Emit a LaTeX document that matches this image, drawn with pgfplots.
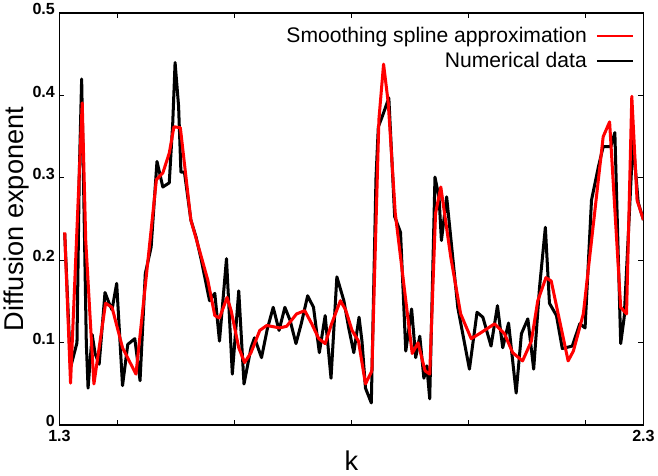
\documentclass[border=0pt]{standalone}
\usepackage{pgfplots}
\pgfplotsset{compat=1.18}
\usepackage{fontspec}
\setmainfont{Liberation Sans}

\begin{document}
\begin{tikzpicture}
\begin{axis}[
    scale only axis,
    width=581pt, height=410pt,
    xmin=1.3, xmax=2.3,
    ymin=0, ymax=0.5,
    xtick={1.3,1.4,1.6,1.8,2.0,2.2,2.3},
    xticklabels={1.3,,,,,,2.3},
    ytick={0,0.1,0.2,0.3,0.4,0.5},
    yticklabels={0,0.1,0.2,0.3,0.4,0.5},
    tick align=inside,
    major tick length=5pt,
    axis line style={line width=1.6pt},
    every tick/.style={black, line width=1pt},
    tick label style={font=\fontsize{16}{16}\selectfont\bfseries},
    yticklabel style={yshift=4pt, xshift=-1pt},
    xticklabel style={yshift=-2pt},
    /pgf/number format/assume math mode=true,
    xlabel={k},
    ylabel={Diffusion exponent},
    label style={font=\fontsize{27}{27}\selectfont},
    xlabel style={inner sep=5pt},
    ylabel style={yshift=-3pt},
    legend style={draw=none, fill=none, at={(0.99,0.975)}, anchor=north east,
        font=\fontsize{21}{23}\selectfont, row sep=4pt},
    legend cell align=right,
    legend plot pos=right,
    legend image code/.code={\path[draw=none] (0pt,0pt) -- (8pt,0pt);
        \draw[#1, line width=2.6pt] (8pt,0pt) -- (44pt,0pt);},
    reverse legend,
]
% numerical data
\addplot[black, line width=3pt, line join=round] coordinates {
(1.309,0.233)(1.319,0.070)(1.330,0.100)(1.334,0.306)(1.338,0.420)
(1.342,0.265)(1.346,0.100)(1.349,0.045)(1.356,0.110)(1.361,0.087)
(1.368,0.074)(1.378,0.161)(1.385,0.148)(1.390,0.140)(1.398,0.172)
(1.408,0.048)(1.417,0.098)(1.429,0.105)(1.438,0.054)(1.447,0.184)
(1.457,0.216)(1.467,0.320)(1.477,0.289)(1.488,0.294)(1.494,0.367)
(1.498,0.440)(1.504,0.387)(1.508,0.307)(1.514,0.307)(1.525,0.249)
(1.534,0.228)(1.543,0.200)(1.557,0.151)(1.566,0.160)(1.574,0.102)
(1.586,0.202)(1.596,0.062)(1.607,0.163)(1.616,0.050)(1.628,0.094)
(1.634,0.106)(1.646,0.082)(1.656,0.117)(1.666,0.143)(1.676,0.115)
(1.686,0.143)(1.695,0.127)(1.705,0.099)(1.714,0.123)(1.725,0.157)
(1.735,0.143)(1.745,0.088)(1.755,0.133)(1.765,0.057)(1.775,0.180)
(1.787,0.151)(1.795,0.119)(1.804,0.088)(1.813,0.131)(1.818,0.102)
(1.824,0.045)(1.834,0.027)(1.842,0.300)(1.846,0.362)(1.853,0.375)
(1.864,0.397)(1.874,0.253)(1.884,0.234)(1.893,0.090)(1.903,0.141)
(1.910,0.082)(1.917,0.108)(1.924,0.057)(1.929,0.072)(1.934,0.032)
(1.943,0.301)(1.950,0.276)(1.954,0.224)(1.963,0.277)(1.982,0.143)
(2.002,0.068)(2.015,0.137)(2.025,0.131)(2.039,0.096)(2.050,0.145)
(2.059,0.094)(2.069,0.124)(2.082,0.039)(2.091,0.111)(2.102,0.129)
(2.112,0.068)(2.122,0.167)(2.132,0.240)(2.139,0.148)(2.151,0.133)
(2.161,0.093)(2.178,0.096)(2.191,0.123)(2.200,0.118)(2.211,0.273)
(2.223,0.314)(2.231,0.338)(2.244,0.338)(2.251,0.355)(2.261,0.099)
(2.267,0.131)(2.273,0.216)(2.282,0.346)(2.291,0.270)(2.300,0.249)
};
\addlegendentry{Numerical data}
% smoothing spline
\addplot[red, line width=3pt, line join=round] coordinates {
(1.309,0.234)(1.319,0.051)(1.339,0.391)(1.345,0.224)(1.359,0.050)
(1.379,0.148)(1.390,0.143)(1.408,0.094)(1.431,0.062)(1.448,0.176)
(1.466,0.298)(1.477,0.306)(1.488,0.330)(1.496,0.362)(1.507,0.361)
(1.525,0.249)(1.543,0.204)(1.554,0.176)(1.566,0.133)(1.574,0.130)
(1.587,0.155)(1.594,0.139)(1.607,0.094)(1.617,0.076)(1.628,0.088)
(1.643,0.115)(1.655,0.121)(1.677,0.118)(1.689,0.120)(1.706,0.135)
(1.720,0.139)(1.732,0.123)(1.744,0.105)(1.755,0.099)(1.766,0.123)
(1.781,0.151)(1.790,0.140)(1.801,0.115)(1.812,0.102)(1.824,0.050)
(1.835,0.066)(1.847,0.371)(1.855,0.438)(1.863,0.391)(1.875,0.257)
(1.904,0.087)(1.914,0.100)(1.926,0.066)(1.934,0.062)(1.944,0.257)
(1.953,0.289)(1.970,0.204)(1.987,0.135)(2.005,0.105)(2.019,0.111)
(2.045,0.123)(2.062,0.111)(2.076,0.088)(2.093,0.078)(2.108,0.102)
(2.119,0.151)(2.133,0.179)(2.142,0.175)(2.171,0.078)(2.180,0.090)
(2.197,0.135)(2.231,0.350)(2.242,0.368)(2.261,0.143)(2.271,0.135)
(2.280,0.399)(2.289,0.273)(2.300,0.249)
};
\addlegendentry{Smoothing spline approximation}
\end{axis}
\end{tikzpicture}
\end{document}
